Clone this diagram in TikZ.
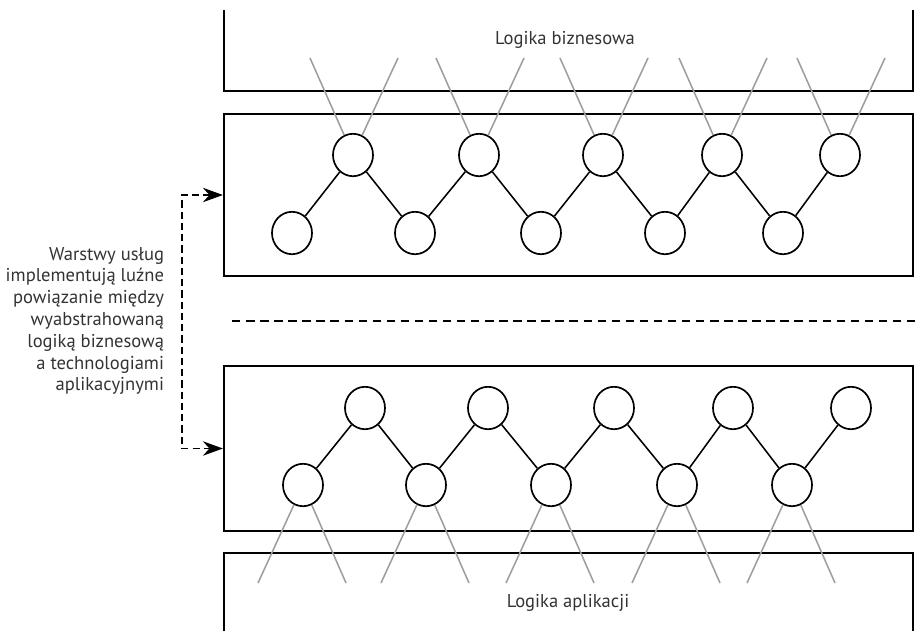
\documentclass[tikz,border=0pt]{standalone}
\usepackage{fontspec}
\setmainfont{PT Sans}
\usetikzlibrary{shapes,arrows.meta}

\begin{document}
\begin{tikzpicture}[x=0.025cm,y=-0.025cm]
    \tikzstyle{layer}=[draw,line width=1.4pt]
    \tikzstyle{svc}=[ellipse,draw,line width=1.2pt,inner sep=0pt,minimum width=1cm,minimum height=1.06cm]
    \tikzstyle{link}=[line width=1.1pt]
    \tikzstyle{wire}=[black!38,line width=1.1pt]
    \tikzstyle{label}=[text=black!80,font=\fontsize{13.2}{15.5}\selectfont]
    \useasboundingbox (0,0) rectangle (920,631);
    % layers
    \draw[layer] (224,10) -- (224,91) -- (913,91) -- (913,10);
    \node[layer,minimum width=17.225cm,minimum height=4.05cm] (upper) at (568.5,195) {};
    \node[layer,minimum width=17.225cm,minimum height=4.125cm] (lower) at (568.5,448.5) {};
    \draw[layer] (224,631) -- (224,553) -- (913,553) -- (913,631);
    \node[label] (biz) at (565,40) {Logika biznesowa};
    \node[label] (app) at (568,603) {Logika aplikacji};
    \draw[line width=1.4pt,dash pattern=on 6pt off 4pt] (232,321) -- (920,321);
    % upper service layer
    \foreach \i/\x/\y in {1/353/292,2/479/415,3/603/541,4/722/665,5/840/783}{
      \node[svc] (a\i) at (\x,155) {};
      \node[svc] (b\i) at (\y,233) {};
      \draw[wire] (a\i) -- (\x-43,58);
      \draw[wire] (a\i) -- (\x+45,58);
      \draw[link] (b\i) -- (a\i);
    }
    \foreach \i/\j in {1/2,2/3,3/4,4/5}
      \draw[link] (a\i) -- (b\j);
    % lower service layer
    \foreach \i/\x/\y in {1/365/303,2/488/426,3/614/551,4/733/677,5/851/792}{
      \node[svc] (c\i) at (\x,408) {};
      \node[svc] (d\i) at (\y,485) {};
      \draw[wire] (d\i) -- (\y-45,583);
      \draw[wire] (d\i) -- (\y+43,583);
      \draw[link] (d\i) -- (c\i);
    }
    \foreach \i/\j in {1/2,2/3,3/4,4/5}
      \draw[link] (c\i) -- (d\j);
    % note
    \node[label,align=right,anchor=east] (note) at (169,321) {Warstwy usług\\implementują luźne\\powiązanie między\\wyabstrahowaną\\logiką biznesową\\a technologiami\\aplikacyjnymi};
    \draw[line width=1.3pt,dash pattern=on 5pt off 3pt,{Stealth[length=5mm,width=3.6mm]}-{Stealth[length=5mm,width=3.6mm]}]
      (upper.west) -- ++(-41,0) |- (lower.west);
\end{tikzpicture}
\end{document}
